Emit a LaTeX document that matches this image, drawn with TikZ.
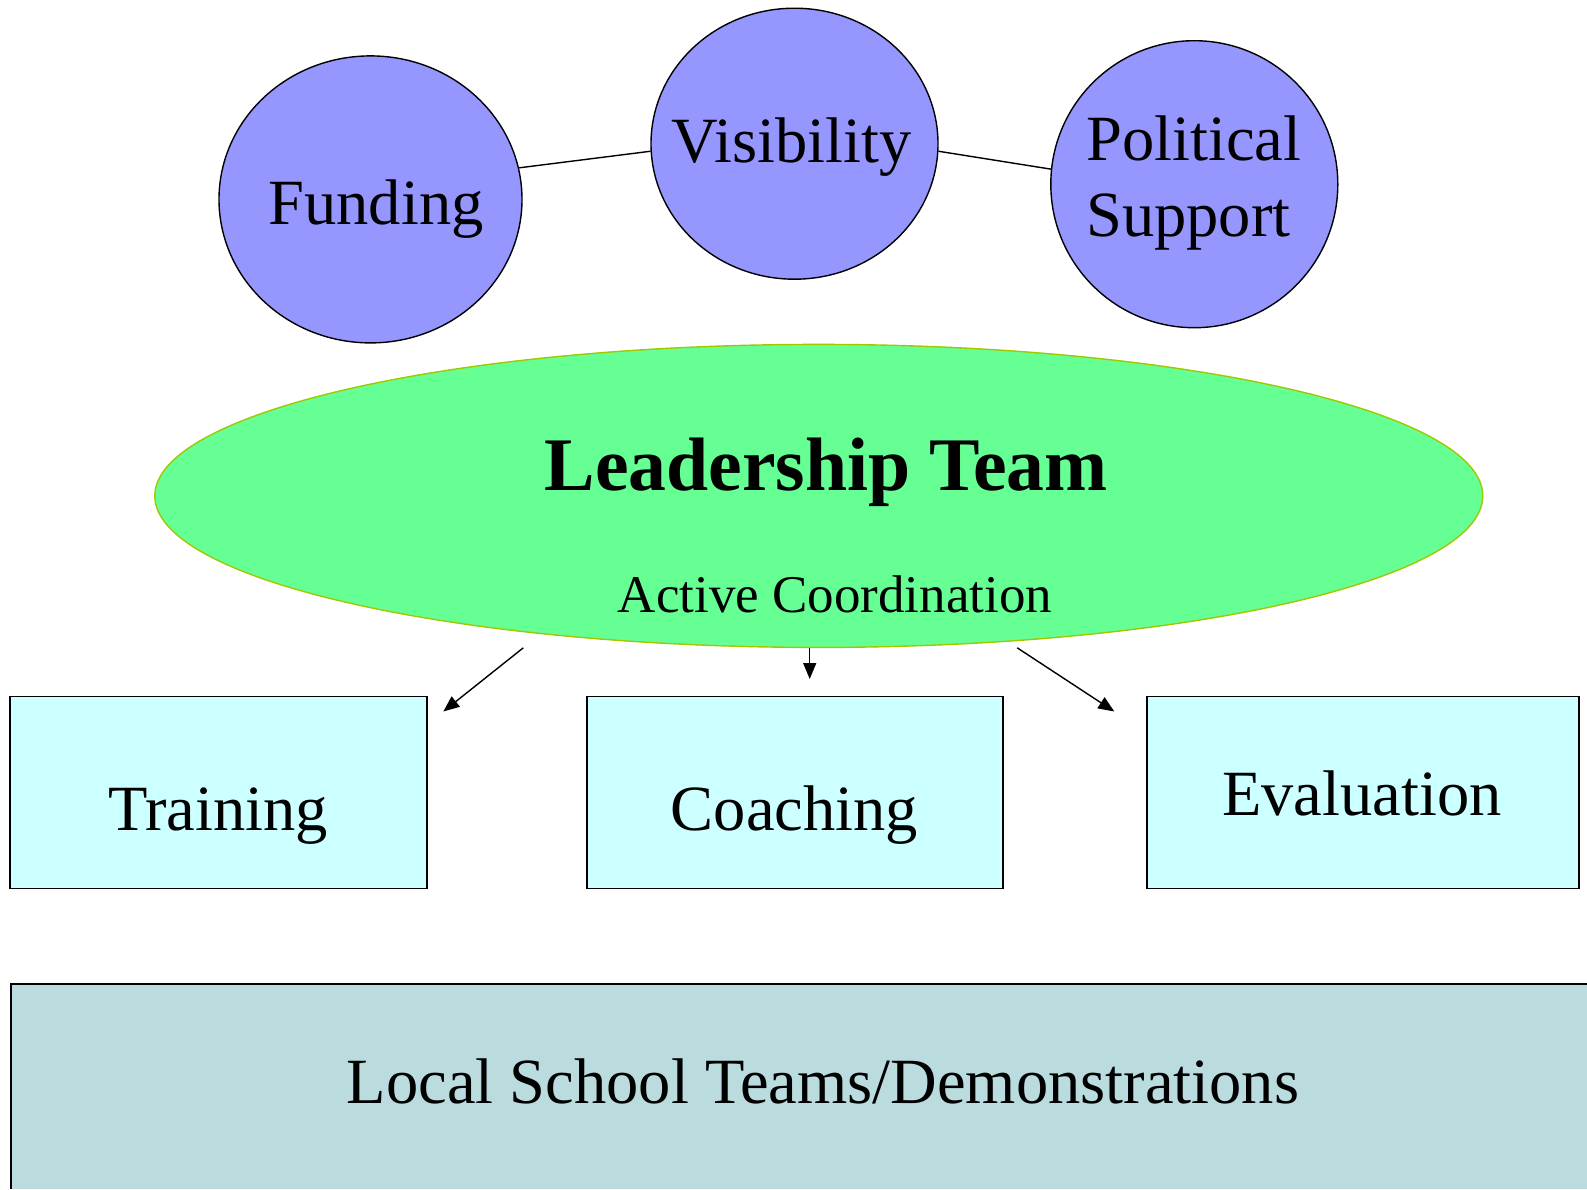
\documentclass[tikz,border=0pt]{standalone}
\usepackage{fontspec}
\setmainfont{Liberation Serif}
\usetikzlibrary{shapes.geometric,arrows.meta}
\definecolor{circblue}{RGB}{150,150,255}
\definecolor{leadgreen}{RGB}{102,255,148}
\definecolor{leadedge}{RGB}{160,200,0}
\definecolor{boxcyan}{RGB}{204,255,255}
\definecolor{basefill}{RGB}{186,220,223}
\tikzset{
  circ/.style={ellipse, draw=black, line width=1.4pt, fill=circblue, inner sep=0pt},
  taskbox/.style={rectangle, draw=black, line width=1.8pt, fill=boxcyan, inner sep=0pt, minimum width=417pt, minimum height=192pt},
  big/.style={font=\fontsize{64.5}{77}\selectfont, inner sep=0pt, anchor=base},
  link/.style={line width=1.4pt},
  arr/.style={line width=1.4pt, -{Triangle[length=16pt,width=13pt]}},
}
\begin{document}
\begin{tikzpicture}[x=1pt,y=-1pt]
\useasboundingbox[fill=white] (0,0) rectangle (1587,1189);
% top circles
\node[circ, minimum width=303pt, minimum height=287pt] (fund) at (370.5,199.4) {};
\node[circ, minimum width=287pt, minimum height=271pt] (vis) at (794.5,143.7) {};
\node[circ, minimum width=287pt, minimum height=287pt] (pol) at (1194.3,184.2) {};
\draw[link] (fund.12) -- (vis.183);
\draw[link] (vis.357) -- (pol.174);
\node[big] (tfund) at (376,224.7) {Funding};
\node[big] (tvis) at (791.5,162) {Visibility};
\node[big, anchor=base west] (tpol) at (1086,160) {Political};
\node[big, anchor=base west] (tsup) at (1086,236) {Support};
% leadership ellipse
\node[ellipse, draw=leadedge, line width=1.4pt, fill=leadgreen, inner sep=0pt,
      minimum width=1328pt, minimum height=303pt] (lead) at (818.8,495.9) {};
\node[font=\fontsize{75.7}{90}\selectfont\bfseries, inner sep=0pt, anchor=base] (tlead) at (826,490) {Leadership Team};
\node[font=\fontsize{53}{64}\selectfont, inner sep=0pt, anchor=base] (tact) at (835,612) {Active Coordination};
% task boxes
\node[taskbox] (train) at (218.6,792.4) {};
\node[taskbox, minimum width=416pt] (coach) at (795,792.4) {};
\node[taskbox, minimum width=432pt] (eval) at (1362.8,792.4) {};
\node[big] (ttrain) at (218,830) {Training};
\node[big] (tcoach) at (794.5,830) {Coaching};
\node[big] (teval) at (1362,815) {Evaluation};
% arrows
\coordinate (s1) at (523.3,647.8);
\coordinate (e1) at (443.3,711.5);
\coordinate (s2) at (809.7,647.8);
\coordinate (e2) at (809.7,679);
\coordinate (s3) at (1017.2,647.8);
\coordinate (e3) at (1114.3,711.5);
\draw[arr] (s1) -- (e1);
\draw[arr] (s2) -- (e2);
\draw[arr] (s3) -- (e3);
% base box
\node[rectangle, fill=basefill, inner sep=0pt, anchor=north west, minimum width=1576pt, minimum height=205pt] (base) at (11,984) {};
\draw[line width=2pt] (base.south west) -- (base.north west) -- (base.north east);
\node[big] (tbase) at (823,1103) {Local School Teams/Demonstrations};
\end{tikzpicture}
\end{document}
